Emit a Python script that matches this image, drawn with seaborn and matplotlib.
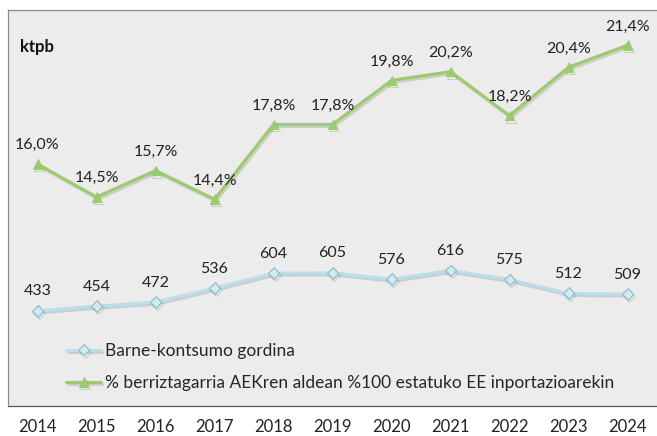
import numpy as np
import pandas as pd
import seaborn as sns
import matplotlib.pyplot as plt
import matplotlib.patheffects as pe

# Data
years = ['2014', '2015', '2016', '2017', '2018', '2019', '2020', '2021', '2022', '2023', '2024']
consumption = [433, 454, 472, 536, 604, 605, 576, 616, 575, 512, 509]
renewable_pct = [16.0, 14.5, 15.7, 14.4, 17.8, 17.8, 19.8, 20.2, 18.2, 20.4, 21.4]

label_blue = 'Barne-kontsumo gordina'
label_green = '% berriztagarria AEKren aldean %100 estatuko EE inportazioarekin'

df = pd.DataFrame({'pos': np.arange(len(years)), 'year': years,
                   'cons': consumption, 'pct': renewable_pct})

sns.set_style('white')
plt.rcParams['font.family'] = ['Lato', 'DejaVu Sans']

fig = plt.figure(figsize=(6.57, 4.36), dpi=100)
ax = fig.add_axes([8 / 657, 1 - 406 / 436, 1 - 8 / 657, 396 / 436])
ax.set_facecolor('#ececec')
ax2 = ax.twinx()

shadow = [pe.SimpleLineShadow(offset=(1, -1.5), alpha=0.2, shadow_color='#555555'),
          pe.Normal()]

sns.lineplot(data=df, x='pos', y='cons', ax=ax, color='#b9dfea', linewidth=2.2,
             marker='D', markersize=6, markerfacecolor='#cdeaf2',
             markeredgecolor='#8fb8c8', markeredgewidth=0.8, label=label_blue,
             path_effects=shadow, legend=False)
sns.lineplot(data=df, x='pos', y='pct', ax=ax2, color='#9ccb6b', linewidth=2.2,
             marker='^', markersize=7, markerfacecolor='#9ccb6b',
             markeredgecolor='#9ccb6b', label=label_green,
             path_effects=shadow, legend=False)

ax.set_ylim(0, 1800)
ax2.set_ylim(5, 23)
ax.set_xlim(-0.5, len(years) - 0.5)

for x, v in zip(df['pos'], consumption):
    ax.annotate(str(v), (x, v), xytext=(0, 9), textcoords='offset points',
                ha='center', va='bottom', fontsize=11.5, color='#222222')
for x, v in zip(df['pos'], renewable_pct):
    ax2.annotate(f'{v:.1f}%'.replace('.', ','), (x, v), xytext=(0, 8.5),
                 textcoords='offset points', ha='center', va='bottom',
                 fontsize=11.5, color='#222222')

ax.text(0.018, 0.895, 'ktpb', transform=ax.transAxes, fontsize=12,
        fontweight='bold', color='#111111')

# x axis: labels at categories, tick marks between them
ax.set_xticks(df['pos'])
ax.set_xticklabels(years, fontsize=12, color='#222222')
ax.set_xticks(np.arange(-0.5, len(years)), minor=True)
ax.tick_params(axis='x', which='major', length=0, pad=9)
ax.tick_params(axis='x', which='minor', length=8, width=1, color='#555555')
ax.set_yticks([])
ax2.set_yticks([])
ax.set_xlabel('')
ax.set_ylabel('')
ax2.set_ylabel('')

for side in ['top', 'left', 'right']:
    ax.spines[side].set_color('#8a8a8a')
    ax2.spines[side].set_color('#8a8a8a')
ax.spines['bottom'].set_color('#555555')
ax2.spines['bottom'].set_color('#555555')
ax.spines['right'].set_visible(False)
ax2.spines['right'].set_visible(False)

h1, l1 = ax.get_legend_handles_labels()
h2, l2 = ax2.get_legend_handles_labels()
ax2.legend(h1 + h2, l1 + l2, loc='lower left', bbox_to_anchor=(0.079, 0.02),
           frameon=False, fontsize=12.5, handlelength=2.0, handletextpad=0.25,
           labelspacing=0.95, borderaxespad=0)

fig.savefig('out.png', dpi=100)
